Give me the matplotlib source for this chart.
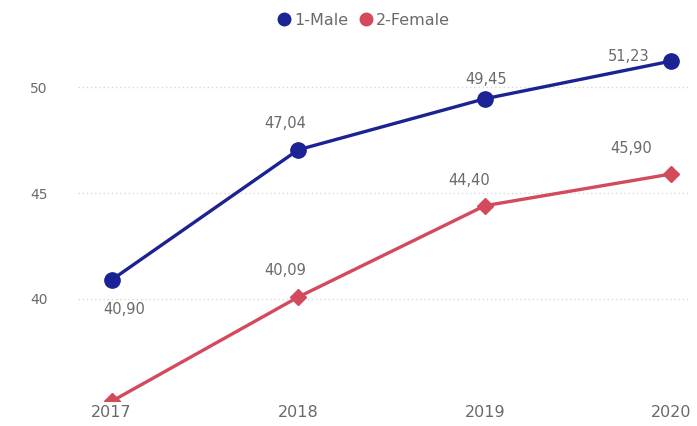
import matplotlib
matplotlib.use("Agg")
import matplotlib.pyplot as plt
from matplotlib.lines import Line2D

years = [2017, 2018, 2019, 2020]
male = [40.90, 47.04, 49.45, 51.23]
female = [35.17, 40.09, 44.40, 45.90]
y_ticks = [40, 45, 50]

C_MALE = "#1b2293"
C_FEMALE = "#d24a5c"
C_TEXT = "#6a6a6a"

plt.rcParams["font.family"] = ["DejaVu Sans"]

fig = plt.figure(figsize=(6.97, 4.26), dpi=100)
ax = fig.add_axes([0.112, 0.058, 0.878, 0.837])

ax.plot(years, male, color=C_MALE, lw=2.4, marker="o", ms=11, zorder=3)
ax.plot(years, female, color=C_FEMALE, lw=2.4, marker="D", ms=8, zorder=3)

ax.set_xlim(2016.82, 2020.10)
ax.set_ylim(35.17, 52)


def fmt(v):
    # decimal comma
    return f"{v:.2f}".replace(".", ",")


# label offsets in points (dx, dy) relative to each marker
male_off = [(9, -21), (-9, 19), (1, 14), (-31, 3)]
female_off = [None, (-9, 19), (-11, 18), (-29, 18)]

for x, v, off in zip(years, male, male_off):
    ax.annotate(fmt(v), (x, v), xytext=off, textcoords="offset points",
                ha="center", va="center", fontsize=10.5, color=C_TEXT)

for x, v, off in zip(years, female, female_off):
    if off is None:
        continue
    ax.annotate(fmt(v), (x, v), xytext=off, textcoords="offset points",
                ha="center", va="center", fontsize=10.5, color=C_TEXT)

ax.set_xticks(years)
ax.set_xticklabels([str(y) for y in years])
ax.set_yticks(y_ticks)
ax.tick_params(axis="both", length=0, labelcolor=C_TEXT)
ax.tick_params(axis="x", labelsize=11.5, pad=3)
ax.tick_params(axis="y", labelsize=10, pad=22)
for s in ax.spines.values():
    s.set_visible(False)
ax.grid(axis="y", color="#d8d8d8", lw=1.0, ls=(0, (1, 2)))
ax.set_axisbelow(True)

handles = [
    Line2D([], [], color=C_MALE, marker="o", ls="none", ms=9, label="1-Male"),
    Line2D([], [], color=C_FEMALE, marker="o", ls="none", ms=9, label="2-Female"),
]
fig.legend(handles=handles, loc="center", bbox_to_anchor=(0.521, 0.952), ncol=2,
           frameon=False, fontsize=11.5, handletextpad=0.15, columnspacing=0.6,
           labelcolor=C_TEXT, handlelength=1.0)

fig.savefig("out.png", dpi=100)
